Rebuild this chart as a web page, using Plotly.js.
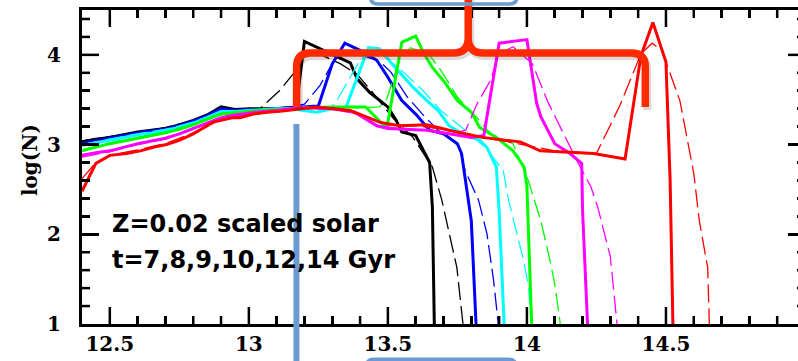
<!DOCTYPE html>
<html><head><meta charset="utf-8">
<script src="https://cdn.plot.ly/plotly-3.0.1.min.js"></script>
<style>html,body{margin:0;padding:0;overflow:hidden;background:#fff}#chart{width:810px;height:361px}</style>
</head><body><div id="chart"></div>
<script>
// ---- data ----
const blackSolidX = [12.40,12.45,12.50,12.55,12.60,12.65,12.70,12.75,12.80,12.85,12.90,12.95,13.00,13.05,13.10,13.15,13.17,13.20,13.26,13.365,13.39,13.435,13.50,13.53,13.55,13.60,13.65,13.66,13.667];
const blackSolidY = [3.03,3.06,3.08,3.11,3.14,3.16,3.18,3.22,3.27,3.33,3.42,3.39,3.40,3.40,3.40,3.41,3.42,4.15,4.06,3.91,3.73,3.58,3.42,3.27,3.14,3.10,2.80,2.30,1.00];
const blackDashX = [12.40,12.50,12.60,12.70,12.80,12.85,12.90,12.95,13.00,13.04,13.11,13.16,13.21,13.26,13.33,13.39,13.44,13.52,13.59,13.66,13.694,13.748,13.77];
const blackDashY = [3.04,3.09,3.14,3.19,3.27,3.33,3.41,3.39,3.40,3.40,3.60,3.79,4.05,4.00,3.90,3.78,3.60,3.29,3.08,2.75,2.38,1.63,1.00];

const blueSolidX = [12.40,12.45,12.50,12.55,12.60,12.65,12.70,12.75,12.80,12.85,12.90,12.95,13.00,13.05,13.10,13.15,13.20,13.25,13.30,13.345,13.40,13.46,13.50,13.55,13.60,13.65,13.70,13.75,13.765,13.796,13.80,13.817];
const blueSolidY = [3.01,3.04,3.07,3.10,3.13,3.15,3.17,3.21,3.26,3.32,3.40,3.38,3.39,3.39,3.40,3.41,3.42,3.43,3.90,4.13,4.05,3.94,3.75,3.49,3.34,3.16,3.12,3.01,2.90,2.27,2.15,1.00];
const blueDashX = [12.40,12.50,12.60,12.70,12.80,12.85,12.90,12.95,13.00,13.05,13.10,13.15,13.20,13.256,13.31,13.36,13.42,13.47,13.51,13.57,13.63,13.68,13.72,13.755,13.778,13.826,13.856,13.88,13.897];
const blueDashY = [3.02,3.08,3.13,3.17,3.26,3.32,3.39,3.38,3.39,3.40,3.41,3.42,3.45,3.66,3.96,4.05,3.98,3.93,3.81,3.53,3.32,3.16,3.08,2.98,2.71,2.38,2.01,1.49,1.00];

const cyanSolidX = [12.40,12.45,12.50,12.55,12.60,12.65,12.70,12.75,12.80,12.85,12.90,12.95,13.00,13.05,13.10,13.15,13.20,13.244,13.30,13.35,13.43,13.47,13.52,13.59,13.64,13.68,13.72,13.78,13.83,13.856,13.89,13.90,13.918];
const cyanSolidY = [2.99,3.02,3.05,3.08,3.11,3.13,3.16,3.19,3.24,3.30,3.37,3.37,3.38,3.39,3.40,3.40,3.38,3.36,3.40,3.42,4.08,4.07,3.88,3.64,3.49,3.38,3.21,3.10,3.05,2.97,2.75,2.26,1.00];
const cyanDashX = [12.40,12.50,12.60,12.70,12.80,12.90,13.00,13.10,13.20,13.29,13.316,13.40,13.44,13.48,13.555,13.627,13.69,13.77,13.85,13.915,13.934,13.958,13.988,14.006,14.015];
const cyanDashY = [3.00,3.06,3.12,3.17,3.25,3.37,3.38,3.40,3.39,3.40,3.49,3.94,4.05,4.00,3.81,3.60,3.38,3.18,2.97,2.71,2.38,2.08,1.71,1.41,1.00];

const greenSolidX = [12.40,12.45,12.50,12.55,12.60,12.65,12.70,12.75,12.80,12.85,12.90,12.95,13.00,13.05,13.10,13.15,13.20,13.30,13.42,13.496,13.55,13.60,13.627,13.66,13.705,13.75,13.80,13.83,13.89,13.95,13.99,14.00,14.017];
const greenSolidY = [2.93,2.97,3.01,3.04,3.07,3.10,3.13,3.17,3.22,3.28,3.34,3.35,3.37,3.38,3.39,3.40,3.41,3.42,3.42,3.18,4.14,4.21,4.03,3.86,3.69,3.49,3.36,3.19,3.08,2.93,2.75,2.53,1.00];
const greenDashX = [12.40,12.50,12.60,12.70,12.80,12.90,13.00,13.10,13.20,13.30,13.40,13.47,13.496,13.537,13.58,13.646,13.69,13.75,13.79,13.82,13.87,13.95,14.005,14.02,14.05,14.08,14.10,14.12];
const greenDashY = [2.94,3.02,3.08,3.14,3.23,3.35,3.38,3.40,3.41,3.42,3.41,3.42,3.51,3.90,4.08,4.01,3.83,3.53,3.40,3.30,3.12,3.01,2.60,2.45,2.15,1.75,1.45,1.00];

const magentaSolidX = [12.40,12.45,12.50,12.55,12.60,12.65,12.70,12.75,12.80,12.85,12.90,12.95,13.00,13.05,13.10,13.15,13.20,13.30,13.38,13.46,13.50,13.56,13.64,13.72,13.80,13.845,13.896,13.90,14.00,14.01,14.035,14.05,14.10,14.155,14.197,14.20,14.218];
const magentaSolidY = [2.88,2.91,2.93,2.97,3.01,3.04,3.07,3.12,3.18,3.24,3.30,3.33,3.35,3.37,3.38,3.40,3.41,3.40,3.36,3.21,3.18,3.17,3.16,3.12,3.08,3.10,4.08,4.13,4.17,3.97,3.46,3.31,3.01,2.90,2.79,2.27,1.00];
const magentaDashX = [12.40,12.50,12.60,12.70,12.80,12.90,13.00,13.10,13.20,13.30,13.40,13.46,13.55,13.65,13.72,13.78,13.82,13.868,13.90,13.95,14.02,14.076,14.12,14.18,14.23,14.255,14.30,14.324];
const magentaDashY = [2.86,2.92,3.00,3.06,3.17,3.29,3.35,3.38,3.41,3.40,3.34,3.22,3.17,3.16,3.12,3.16,3.45,3.71,4.01,4.09,3.90,3.47,3.19,2.82,2.53,2.30,1.75,1.00];

const redSolidX = [12.40,12.45,12.50,12.56,12.61,12.656,12.704,12.752,12.80,12.848,12.872,12.944,12.968,13.016,13.064,13.112,13.16,13.244,13.364,13.47,13.54,13.64,13.72,13.84,13.915,13.976,14.048,14.24,14.353,14.41,14.453,14.50,14.515,14.525];
const redSolidY = [2.48,2.79,2.88,2.90,2.93,2.97,3.00,3.05,3.12,3.21,3.25,3.30,3.30,3.34,3.36,3.37,3.39,3.42,3.38,3.25,3.21,3.22,3.16,3.08,3.05,3.03,2.93,2.90,2.84,3.99,4.36,3.92,2.60,1.00];
const redDashX = [12.40,12.45,12.50,12.60,12.70,12.80,12.90,13.00,13.10,13.20,13.30,13.40,13.50,13.60,13.70,13.80,13.90,14.00,14.10,14.20,14.25,14.335,14.41,14.45,14.485,14.55,14.60,14.62,14.65,14.656];
const redDashY = [2.62,2.80,2.88,2.94,3.01,3.13,3.28,3.33,3.37,3.41,3.41,3.33,3.22,3.21,3.17,3.10,3.05,2.99,2.93,2.91,2.90,3.44,4.01,4.13,4.05,3.49,2.68,2.15,1.63,1.00];

const xTickVals = [12.5, 13, 13.5, 14, 14.5];
const xTickText = ['12.5', '13', '13.5', '14', '14.5'];
const yTickVals = [1, 2, 3, 4];
const yTickText = ['1', '2', '3', '4'];
const yTitle = 'log(N)';
const noteLines = ['Z=0.02 scaled solar', 't=7,8,9,10,12,14 Gyr'];

// ---- geometry ----
const W = 810, H = 361, L = 82, R = 5.4, T = 10, B = 37.3;
const PW = W - L - R, PH = H - T - B;
const X0 = 12.4, X1 = 15.0, Y0 = 1, Y1 = 4.5;
const pxPerX = PW / (X1 - X0), pxPerY = PH / (Y1 - Y0);
const px = v => (v - L) / PW;
const py = v => (H - B - v) / PH;
function path(cmds) {
  return cmds.map(c => c[0] + ' ' + c.slice(1).map((v, i) => i % 2 === 0 ? px(v).toFixed(5) : py(v).toFixed(5)).join(',')).join(' ');
}

// ---- curves ----
const traces = [];
const series = [
  ['#000000', blackDashX, blackDashY, blackSolidX, blackSolidY],
  ['#0000ff', blueDashX, blueDashY, blueSolidX, blueSolidY],
  ['#00ffff', cyanDashX, cyanDashY, cyanSolidX, cyanSolidY],
  ['#00ff00', greenDashX, greenDashY, greenSolidX, greenSolidY],
  ['#ff00ff', magentaDashX, magentaDashY, magentaSolidX, magentaSolidY],
  ['#ff0000', redDashX, redDashY, redSolidX, redSolidY]
];
series.forEach(([c, dx, dy, sx, sy]) => {
  traces.push({x: dx, y: dy, mode: 'lines', line: {color: c, width: 1.3, dash: '18px,6px'}, hoverinfo: 'skip'});
  traces.push({x: sx, y: sy, mode: 'lines', line: {color: c, width: 3}, hoverinfo: 'skip'});
});

// ---- inside tick marks on all four sides (backup to the axis ticks), one trace per mark ----
function tickLine(xs, ys) {
  traces.push({x: xs, y: ys, mode: 'lines', line: {color: 'rgb(0,0,0)', width: 2.5}, hoverinfo: 'skip'});
}
for (let i = 125; i < 150; i++) {
  const v = i / 10, d = (i % 5 === 0 ? 17 : 8) / pxPerY;
  tickLine([v, v], [Y0, Y0 + d]);
  tickLine([v, v], [Y1, Y1 - d]);
}
for (let i = 12; i < 45; i += 2) {
  const v = i / 10, d = (i % 10 === 0 ? 17 : 8) / pxPerX;
  tickLine([X0, X0 + d], [v, v]);
  tickLine([X1, X1 - d], [v, v]);
}

// ---- overlay marks (brace, bar and boxes) ----
const braceCmds = [
  ['M', 296.5, 107], ['L', 296.5, 67], ['Q', 296.5, 53, 310, 53], ['L', 453, 53], ['Q', 468, 53, 468, 38], ['L', 468, -10],
  ['M', 468, 38], ['Q', 468, 53, 483, 53], ['L', 631, 53], ['Q', 645, 53, 645, 67], ['L', 645, 107]
];
const shadowCmds = braceCmds.map(c => [c[0]].concat(c.slice(1).map((v, i) => i % 2 === 0 ? v + 2 : v + 3)));
const blue = '#6b9bd0';
const shapes = [
  {type: 'path', xref: 'paper', yref: 'paper', path: path(shadowCmds), line: {color: 'rgba(0,0,0,0.15)', width: 8}, layer: 'above'},
  {type: 'path', xref: 'paper', yref: 'paper', path: path(braceCmds), line: {color: '#ff2a00', width: 7.5}, layer: 'above'},
  {type: 'line', xref: 'paper', yref: 'paper', x0: px(296.3), x1: px(296.3), y0: py(124), y1: py(375), line: {color: blue, width: 6}, layer: 'above'},
  {type: 'path', xref: 'paper', yref: 'paper', path: path([['M', 370, -20], ['L', 370, -4], ['Q', 370, 4, 378, 4], ['L', 509, 4], ['Q', 517, 4, 517, -4], ['L', 517, -20]]), line: {color: blue, width: 3.5}, layer: 'above'},
  {type: 'path', xref: 'paper', yref: 'paper', path: path([['M', 366, 380], ['L', 366, 367], ['Q', 366, 359, 374, 359], ['L', 508, 359], ['Q', 516, 359, 516, 367], ['L', 516, 380]]), line: {color: blue, width: 3.5}, layer: 'above'}
];

const tickFont = {family: 'DejaVu Serif', size: 20, color: '#000', weight: 'bold'};
const annotations = noteLines.map((t, i) => ({
  xref: 'paper', yref: 'paper', x: px(110), y: py(224 + i * 36), xanchor: 'left', yanchor: 'middle',
  text: t, showarrow: false, font: {family: 'DejaVu Sans', size: 24, color: '#000', weight: 'bold'}
}));
annotations.push({
  xref: 'paper', yref: 'paper', x: px(30), y: py(160), xanchor: 'center', yanchor: 'middle', textangle: -90,
  text: yTitle, showarrow: false, font: {family: 'DejaVu Serif', size: 20, color: '#000', weight: 'bold'}
});

const axisCommon = {
  ticks: 'inside', ticklen: 17, tickwidth: 2.5, tickcolor: 'rgb(0,0,0)',
  showline: true, linewidth: 3, linecolor: '#000', mirror: 'ticks',
  showgrid: false, zeroline: false, tickfont: tickFont
};
const layout = {
  width: W, height: H,
  margin: {l: L, r: R, t: T, b: B},
  paper_bgcolor: '#fff', plot_bgcolor: '#fff', showlegend: false,
  xaxis: Object.assign({}, axisCommon, {
    range: [X0, X1], tickmode: 'array', tickvals: xTickVals, ticktext: xTickText,
    minor: {dtick: 0.1, tick0: 12.4, ticks: 'inside', ticklen: 8, tickwidth: 2.5, tickcolor: 'rgb(0,0,0)', showgrid: false}
  }),
  yaxis: Object.assign({}, axisCommon, {
    range: [Y0, Y1], tickmode: 'array', tickvals: yTickVals, ticktext: yTickText, ticklabelstandoff: 14,
    minor: {dtick: 0.2, tick0: 1, ticks: 'inside', ticklen: 8, tickwidth: 2.5, tickcolor: 'rgb(0,0,0)', showgrid: false}
  }),
  shapes: shapes,
  annotations: annotations
};
Plotly.newPlot('chart', traces, layout, {staticPlot: true, displayModeBar: false});
</script>
</body></html>
